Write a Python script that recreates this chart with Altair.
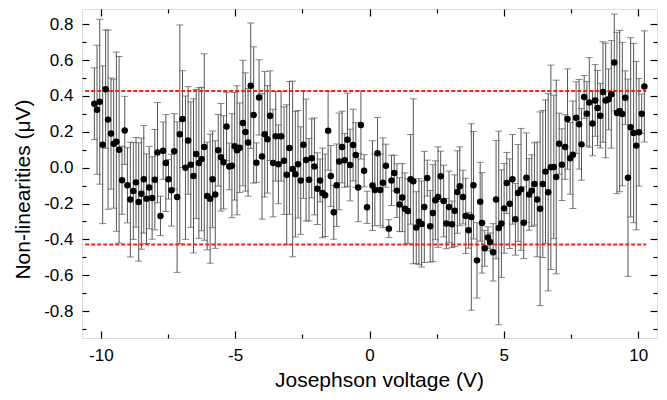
import altair as alt
import pandas as pd

# ---- data ----
x_volts = [
    -10.24, -10.14, -10.04, -9.93, -9.82, -9.73, -9.62, -9.52, -9.42, -9.32,
    -9.21, -9.11, -9.01, -8.90, -8.79, -8.69, -8.59, -8.49, -8.40, -8.30,
    -8.20, -8.09, -7.99, -7.89, -7.78, -7.68, -7.58, -7.48, -7.37, -7.27,
    -7.16, -7.06, -6.96, -6.85, -6.75, -6.65, -6.55, -6.45, -6.35, -6.25,
    -6.15, -6.04, -5.93, -5.84, -5.74, -5.63, -5.53, -5.43, -5.32, -5.22,
    -5.12, -5.02, -4.93, -4.83, -4.71, -4.62, -4.52, -4.42, -4.31, -4.21,
    -4.11, -4.00, -3.90, -3.80, -3.70, -3.59, -3.49, -3.39, -3.29, -3.18,
    -3.08, -2.98, -2.86, -2.76, -2.66, -2.56, -2.46, -2.36, -2.25, -2.15,
    -2.05, -1.94, -1.84, -1.75, -1.65, -1.54, -1.44, -1.33, -1.22, -1.13,
    -1.02, -0.92, -0.82, -0.72, -0.61, -0.51, -0.42, -0.32, -0.20, -0.09,
    0.11, 0.20, 0.30, 0.40, 0.50, 0.61, 0.72, 0.82, 0.92, 1.02,
    1.12, 1.22, 1.32, 1.43, 1.53, 1.63, 1.74, 1.84, 1.94, 2.04,
    2.15, 2.26, 2.36, 2.45, 2.55, 2.65, 2.76, 2.86, 2.96, 3.07,
    3.17, 3.27, 3.36, 3.48, 3.58, 3.69, 3.79, 3.87, 4.00, 4.12,
    4.19, 4.29, 4.41, 4.49, 4.60, 4.71, 4.81, 4.91, 5.01, 5.11,
    5.22, 5.32, 5.43, 5.53, 5.64, 5.74, 5.84, 5.94, 6.04, 6.14,
    6.24, 6.35, 6.45, 6.55, 6.65, 6.75, 6.86, 6.95, 7.06, 7.16,
    7.28, 7.37, 7.47, 7.57, 7.69, 7.80, 7.89, 7.99, 8.09, 8.18,
    8.30, 8.40, 8.49, 8.59, 8.69, 8.79, 8.90, 9.00, 9.11, 9.21,
    9.31, 9.41, 9.52, 9.62, 9.72, 9.83, 9.93, 10.03, 10.13, 10.23,
]
nonlin = [
    0.357, 0.323, 0.368, 0.128, 0.438, 0.268, 0.190, 0.134, 0.145, 0.100,
    -0.070, 0.208, -0.098, -0.178, -0.130, -0.082, -0.191, -0.145, -0.065, -0.173,
    -0.111, -0.169, -0.067, 0.084, -0.269, 0.095, 0.026, -0.065, -0.126, 0.091,
    -0.164, 0.186, 0.271, 0.000, 0.152, 0.017, -0.046, 0.076, 0.026, 0.048,
    0.115, -0.158, -0.173, -0.065, -0.150, 0.097, 0.058, 0.030, 0.230, 0.007,
    0.011, 0.119, 0.097, 0.111, 0.249, 0.199, 0.141, 0.457, 0.294, 0.028,
    0.392, 0.063, 0.186, 0.158, 0.290, 0.026, 0.175, 0.019, 0.175, 0.039,
    -0.039, 0.110, -0.007, -0.037, 0.019, -0.072, 0.128, 0.043, -0.067, 0.052,
    0.007, -0.117, -0.071, -0.141, -0.154, 0.206, -0.046, -0.249, -0.098, 0.035,
    0.115, 0.041, 0.156, 0.015, 0.126, 0.071, -0.111, 0.238, -0.017, -0.221,
    -0.100, -0.124, 0.080, -0.124, -0.084, 0.011, -0.340, -0.071, -0.030, -0.128,
    -0.206, -0.167, -0.229, -0.242, -0.065, -0.076, -0.334, -0.301, -0.314, -0.219,
    -0.058, -0.327, -0.253, -0.182, -0.164, -0.048, -0.186, -0.312, -0.219, -0.316,
    -0.240, -0.136, -0.104, -0.164, -0.269, -0.349, -0.275, -0.098, -0.517, -0.190,
    -0.308, -0.450, -0.390, -0.414, -0.472, -0.178, -0.336, -0.312, -0.227, -0.085,
    -0.201, -0.065, -0.288, -0.141, -0.121, -0.307, -0.056, -0.149, -0.128, -0.091,
    -0.177, -0.229, -0.091, -0.022, -0.137, 0.002, 0.004, -0.052, 0.134, 0.017,
    0.115, 0.271, 0.052, 0.072, 0.279, 0.242, 0.130, 0.394, 0.301, 0.364,
    0.247, 0.375, 0.333, 0.290, 0.422, 0.375, 0.381, 0.409, 0.587, 0.305,
    0.316, 0.299, 0.390, -0.056, 0.225, 0.193, 0.123, 0.197, 0.301, 0.453,
]
err = [
    0.20, 0.36, 0.46, 0.44, 0.33, 0.50, 0.31, 0.36, 0.50, 0.52,
    0.19, 0.19, 0.21, 0.32, 0.27, 0.25, 0.33, 0.31, 0.30, 0.25,
    0.23, 0.23, 0.28, 0.28, 0.11, 0.16, 0.27, 0.11, 0.20, 0.21,
    0.42, 0.61, 0.27, 0.40, 0.30, 0.35, 0.43, 0.36, 0.42, 0.40,
    0.52, 0.30, 0.36, 0.27, 0.30, 0.20, 0.30, 0.26, 0.19, 0.13,
    0.29, 0.30, 0.36, 0.25, 0.35, 0.33, 0.30, 0.35, 0.38, 0.11,
    0.21, 0.35, 0.35, 0.30, 0.25, 0.30, 0.25, 0.22, 0.25, 0.30,
    0.39, 0.37, 0.49, 0.35, 0.30, 0.30, 0.30, 0.34, 0.23, 0.22,
    0.27, 0.20, 0.12, 0.25, 0.23, 0.22, 0.17, 0.15, 0.23, 0.27,
    0.20, 0.15, 0.26, 0.20, 0.20, 0.18, 0.19, 0.19, 0.09, 0.09,
    0.25, 0.20, 0.20, 0.20, 0.25, 0.12, 0.05, 0.14, 0.10, 0.15,
    0.15, 0.19, 0.20, 0.18, 0.25, 0.46, 0.20, 0.24, 0.24, 0.31,
    0.10, 0.20, 0.27, 0.22, 0.28, 0.14, 0.20, 0.14, 0.20, 0.13,
    0.20, 0.23, 0.22, 0.15, 0.21, 0.10, 0.52, 0.30, 0.21, 0.22,
    0.28, 0.10, 0.06, 0.05, 0.16, 0.33, 0.54, 0.30, 0.25, 0.17,
    0.25, 0.25, 0.20, 0.27, 0.34, 0.20, 0.25, 0.20, 0.20, 0.23,
    0.32, 0.54, 0.41, 0.40, 0.55, 0.57, 0.40, 0.54, 0.17, 0.20,
    0.18, 0.28, 0.20, 0.30, 0.20, 0.25, 0.20, 0.12, 0.18, 0.25,
    0.18, 0.20, 0.21, 0.18, 0.28, 0.32, 0.17, 0.30, 0.27, 0.45,
    0.45, 0.40, 0.15, 0.55, 0.50, 0.50, 0.47, 0.30, 0.11, 0.31,
]

x_major = [-10, -5, 0, 5, 10]
x_minor = [-7.5, -2.5, 2.5, 7.5]
y_major = [-0.8, -0.6, -0.4, -0.2, 0.0, 0.2, 0.4, 0.6, 0.8]
y_minor = [-0.9, -0.7, -0.5, -0.3, -0.1, 0.1, 0.3, 0.5, 0.7]
limit_levels = [0.428, -0.428]
limit_x_start = -10.58
limit_x_end = 10.3

df = pd.DataFrame({"V": x_volts, "NL": nonlin, "err": err})
df["lo"] = df["NL"] - df["err"]
df["hi"] = df["NL"] + df["err"]
limits = pd.DataFrame({
    "level": limit_levels,
    "xs": [limit_x_start] * len(limit_levels),
    "xe": [limit_x_end] * len(limit_levels),
})

W, H = 575, 329
FONT = "Liberation Sans"
xs = alt.Scale(domain=[-10.7, 10.7], nice=False, zero=False)
ys = alt.Scale(domain=[-0.95, 0.885], nice=False, zero=False)


def tick_axis(orient, values, size, offset):
    return alt.Axis(orient=orient, offset=offset, values=values, ticks=True,
                    tickSize=size, tickWidth=1.2, tickColor="black",
                    labels=False, domain=False, grid=False, title=None)


x_main = alt.Axis(
    orient="bottom", values=x_major, ticks=False, domain=False, grid=False,
    labelPadding=9, labelFontSize=17, labelFont=FONT, labelColor="black",
    labelFlush=False,
    labelExpr="datum.value < 0 ? '-' + format(-datum.value, 'd') : format(datum.value, 'd')",
    title="Josephson voltage (V)", titleFontSize=21, titleFont=FONT,
    titleFontWeight="normal", titleColor="black", titleX=297, titleY=48,
    titleAlign="center", titleBaseline="alphabetic",
)
y_main = alt.Axis(
    orient="left", values=y_major, ticks=False, domain=False, grid=False,
    labelPadding=9, labelFontSize=17, labelFont=FONT, labelColor="black",
    labelFlush=False,
    labelExpr="datum.value < 0 ? '-' + format(-datum.value, '.1f') : format(datum.value, '.1f')",
    title="Non-linearities (μV)", titleFontSize=21, titleFont=FONT,
    titleFontWeight="normal", titleColor="black", titleAngle=270,
    titleX=-53, titleY=180, titleAlign="center", titleBaseline="alphabetic",
)

bars = alt.Chart(df).mark_rule(color="#555555", strokeWidth=1).encode(
    x=alt.X("V:Q", scale=xs, axis=x_main),
    y=alt.Y("lo:Q", scale=ys, axis=y_main),
    y2="hi:Q",
)
caps_hi = alt.Chart(df).mark_tick(orient="horizontal", size=7, thickness=1, color="#555555").encode(
    x=alt.X("V:Q", scale=xs, axis=tick_axis("top", x_major, 7, -H)),
    y=alt.Y("hi:Q", scale=ys, axis=tick_axis("right", y_major, 7, -W)),
)
caps_lo = alt.Chart(df).mark_tick(orient="horizontal", size=7, thickness=1, color="#555555").encode(
    x=alt.X("V:Q", scale=xs, axis=tick_axis("bottom", x_major, 7, -H)),
    y=alt.Y("lo:Q", scale=ys, axis=tick_axis("left", y_major, 7, -W)),
)
limit_lines = alt.Chart(limits).mark_rule(color="#ff1a1a", strokeDash=[4, 2], strokeWidth=2).encode(
    x=alt.X("xs:Q", scale=xs, axis=tick_axis("bottom", x_minor, 4, -H)),
    x2="xe:Q",
    y=alt.Y("level:Q", scale=ys, axis=tick_axis("left", y_minor, 4, -W)),
)
points = alt.Chart(df).mark_circle(size=42, color="black", opacity=1).encode(
    x=alt.X("V:Q", scale=xs, axis=tick_axis("top", x_minor, 4, -H)),
    y=alt.Y("NL:Q", scale=ys, axis=tick_axis("right", y_minor, 4, -W)),
)

chart = alt.layer(bars, caps_hi, caps_lo, limit_lines, points).resolve_axis(
    x="independent", y="independent"
).properties(
    width=W, height=H,
    autosize=alt.AutoSizeParams(type="none"),
    padding={"left": 74, "top": 1, "right": 2, "bottom": 53},
).configure_view(stroke="black", strokeWidth=1.5).configure(background="white")

chart.save("out.html", embed_options={"renderer": "svg", "actions": False})
